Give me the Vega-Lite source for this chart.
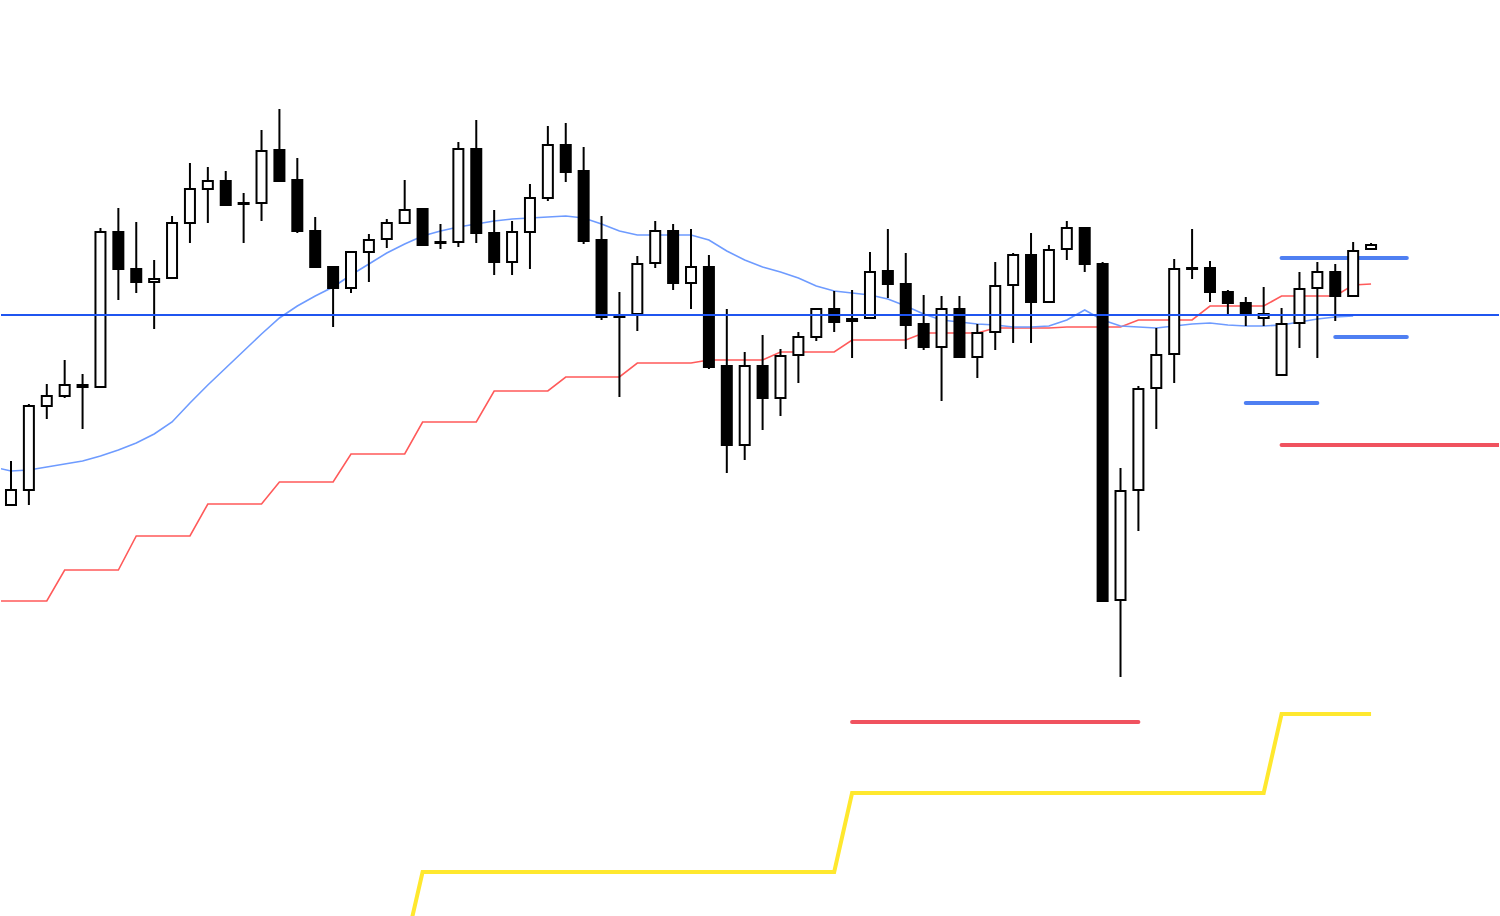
{
  "$schema": "https://vega.github.io/schema/vega-lite/v6.json",
  "width": 1500,
  "height": 916,
  "autosize": {"type": "fit", "contains": "padding"},
  "padding": 0,
  "background": "white",
  "config": {"view": {"stroke": null}, "scale": {"continuousPadding": 0}},
  "datasets": {
    "candles": [
      {"i": -1, "ma": 145.33, "ma4": 143.99},
      {"i": 0, "o": 144.95, "h": 145.39, "l": 144.95, "c": 145.10, "ma": 145.29, "ma4": 143.99},
      {"i": 1, "o": 145.10, "h": 145.96, "l": 144.95, "c": 145.94, "ma": 145.30, "ma4": 143.99},
      {"i": 2, "o": 145.94, "h": 146.16, "l": 145.81, "c": 146.04, "ma": 145.33, "ma4": 143.99},
      {"i": 3, "o": 146.04, "h": 146.40, "l": 146.02, "c": 146.15, "ma": 145.36, "ma4": 144.30},
      {"i": 4, "o": 146.15, "h": 146.26, "l": 145.71, "c": 146.13, "ma": 145.39, "ma4": 144.30},
      {"i": 5, "o": 146.13, "h": 147.72, "l": 146.12, "c": 147.68, "ma": 145.44, "ma4": 144.30},
      {"i": 6, "o": 147.68, "h": 147.92, "l": 147.00, "c": 147.31, "ma": 145.50, "ma4": 144.30},
      {"i": 7, "o": 147.31, "h": 147.78, "l": 147.07, "c": 147.18, "ma": 145.57, "ma4": 144.64},
      {"i": 8, "o": 147.18, "h": 147.40, "l": 146.71, "c": 147.21, "ma": 145.66, "ma4": 144.64},
      {"i": 9, "o": 147.22, "h": 147.84, "l": 147.22, "c": 147.77, "ma": 145.78, "ma4": 144.64},
      {"i": 10, "o": 147.77, "h": 148.37, "l": 147.57, "c": 148.11, "ma": 145.97, "ma4": 144.64},
      {"i": 11, "o": 148.11, "h": 148.33, "l": 147.77, "c": 148.19, "ma": 146.15, "ma4": 144.96},
      {"i": 12, "o": 148.19, "h": 148.29, "l": 147.95, "c": 147.95, "ma": 146.32, "ma4": 144.96},
      {"i": 13, "o": 147.97, "h": 148.07, "l": 147.57, "c": 147.96, "ma": 146.49, "ma4": 144.96},
      {"i": 14, "o": 147.97, "h": 148.70, "l": 147.79, "c": 148.49, "ma": 146.66, "ma4": 144.96},
      {"i": 15, "o": 148.50, "h": 148.91, "l": 148.18, "c": 148.19, "ma": 146.82, "ma4": 145.18},
      {"i": 16, "o": 148.20, "h": 148.42, "l": 147.67, "c": 147.69, "ma": 146.94, "ma4": 145.18},
      {"i": 17, "o": 147.69, "h": 147.83, "l": 147.33, "c": 147.33, "ma": 147.04, "ma4": 145.18},
      {"i": 18, "o": 147.33, "h": 147.34, "l": 146.73, "c": 147.12, "ma": 147.13, "ma4": 145.18},
      {"i": 19, "o": 147.12, "h": 147.49, "l": 147.07, "c": 147.48, "ma": 147.25, "ma4": 145.46},
      {"i": 20, "o": 147.48, "h": 147.66, "l": 147.18, "c": 147.60, "ma": 147.36, "ma4": 145.46},
      {"i": 21, "o": 147.61, "h": 147.81, "l": 147.52, "c": 147.77, "ma": 147.47, "ma4": 145.46},
      {"i": 22, "o": 147.77, "h": 148.20, "l": 147.77, "c": 147.90, "ma": 147.56, "ma4": 145.46, "d": 140.50},
      {"i": 23, "o": 147.91, "h": 147.91, "l": 147.55, "c": 147.55, "ma": 147.64, "ma4": 145.78, "d": 141.28},
      {"i": 24, "o": 147.58, "h": 147.76, "l": 147.51, "c": 147.57, "ma": 147.69, "ma4": 145.78, "d": 141.28},
      {"i": 25, "o": 147.58, "h": 148.58, "l": 147.53, "c": 148.51, "ma": 147.73, "ma4": 145.78, "d": 141.28},
      {"i": 26, "o": 148.51, "h": 148.80, "l": 147.57, "c": 147.67, "ma": 147.76, "ma4": 145.78, "d": 141.28},
      {"i": 27, "o": 147.67, "h": 147.90, "l": 147.25, "c": 147.38, "ma": 147.79, "ma4": 146.09, "d": 141.28},
      {"i": 28, "o": 147.38, "h": 147.79, "l": 147.25, "c": 147.68, "ma": 147.81, "ma4": 146.09, "d": 141.28},
      {"i": 29, "o": 147.68, "h": 148.16, "l": 147.31, "c": 148.02, "ma": 147.82, "ma4": 146.09, "d": 141.28},
      {"i": 30, "o": 148.02, "h": 148.74, "l": 147.99, "c": 148.55, "ma": 147.83, "ma4": 146.09, "d": 141.28},
      {"i": 31, "o": 148.55, "h": 148.77, "l": 148.18, "c": 148.28, "ma": 147.84, "ma4": 146.23, "d": 141.28},
      {"i": 32, "o": 148.29, "h": 148.53, "l": 147.56, "c": 147.59, "ma": 147.82, "ma4": 146.23, "d": 141.28},
      {"i": 33, "o": 147.60, "h": 147.84, "l": 146.80, "c": 146.83, "ma": 147.76, "ma4": 146.23, "d": 141.28},
      {"i": 34, "o": 146.84, "h": 147.08, "l": 146.03, "c": 146.83, "ma": 147.69, "ma4": 146.23, "d": 141.28},
      {"i": 35, "o": 146.86, "h": 147.44, "l": 146.69, "c": 147.36, "ma": 147.65, "ma4": 146.37, "d": 141.28},
      {"i": 36, "o": 147.37, "h": 147.79, "l": 147.32, "c": 147.69, "ma": 147.65, "ma4": 146.37, "d": 141.28},
      {"i": 37, "o": 147.69, "h": 147.76, "l": 147.10, "c": 147.17, "ma": 147.65, "ma4": 146.37, "d": 141.28},
      {"i": 38, "o": 147.17, "h": 147.71, "l": 146.91, "c": 147.33, "ma": 147.65, "ma4": 146.37, "d": 141.28},
      {"i": 39, "o": 147.33, "h": 147.45, "l": 146.31, "c": 146.33, "ma": 147.60, "ma4": 146.40, "d": 141.28},
      {"i": 40, "o": 146.34, "h": 146.91, "l": 145.27, "c": 145.55, "ma": 147.49, "ma4": 146.40, "d": 141.28},
      {"i": 41, "o": 145.55, "h": 146.48, "l": 145.40, "c": 146.34, "ma": 147.40, "ma4": 146.40, "d": 141.28},
      {"i": 42, "o": 146.34, "h": 146.65, "l": 145.70, "c": 146.02, "ma": 147.33, "ma4": 146.40, "d": 141.28},
      {"i": 43, "o": 146.02, "h": 146.51, "l": 145.84, "c": 146.44, "ma": 147.28, "ma4": 146.48, "d": 141.28},
      {"i": 44, "o": 146.45, "h": 146.68, "l": 146.17, "c": 146.63, "ma": 147.22, "ma4": 146.48, "d": 141.28},
      {"i": 45, "o": 146.63, "h": 146.91, "l": 146.59, "c": 146.91, "ma": 147.14, "ma4": 146.48, "d": 141.28},
      {"i": 46, "o": 146.91, "h": 147.09, "l": 146.68, "c": 146.78, "ma": 147.09, "ma4": 146.48, "d": 141.28},
      {"i": 47, "o": 146.81, "h": 147.10, "l": 146.42, "c": 146.79, "ma": 147.07, "ma4": 146.60, "d": 142.07},
      {"i": 48, "o": 146.82, "h": 147.48, "l": 146.82, "c": 147.28, "ma": 147.05, "ma4": 146.60, "d": 142.07},
      {"i": 49, "o": 147.29, "h": 147.71, "l": 147.02, "c": 147.16, "ma": 147.01, "ma4": 146.60, "d": 142.07},
      {"i": 50, "o": 147.16, "h": 147.47, "l": 146.51, "c": 146.75, "ma": 146.94, "ma4": 146.60, "d": 142.07},
      {"i": 51, "o": 146.76, "h": 147.05, "l": 146.50, "c": 146.53, "ma": 146.86, "ma4": 146.67, "d": 142.07},
      {"i": 52, "o": 146.53, "h": 147.04, "l": 145.99, "c": 146.91, "ma": 146.80, "ma4": 146.67, "d": 142.07},
      {"i": 53, "o": 146.91, "h": 147.04, "l": 146.43, "c": 146.43, "ma": 146.78, "ma4": 146.67, "d": 142.07},
      {"i": 54, "o": 146.43, "h": 146.76, "l": 146.22, "c": 146.67, "ma": 146.76, "ma4": 146.67, "d": 142.07},
      {"i": 55, "o": 146.68, "h": 147.38, "l": 146.50, "c": 147.14, "ma": 146.75, "ma4": 146.72, "d": 142.07},
      {"i": 56, "o": 147.15, "h": 147.47, "l": 146.57, "c": 147.45, "ma": 146.73, "ma4": 146.72, "d": 142.07},
      {"i": 57, "o": 147.45, "h": 147.67, "l": 146.57, "c": 146.98, "ma": 146.73, "ma4": 146.72, "d": 142.07},
      {"i": 58, "o": 146.98, "h": 147.55, "l": 146.98, "c": 147.50, "ma": 146.74, "ma4": 146.72, "d": 142.07},
      {"i": 59, "o": 147.51, "h": 147.79, "l": 147.40, "c": 147.72, "ma": 146.80, "ma4": 146.73, "d": 142.07},
      {"i": 60, "o": 147.72, "h": 147.73, "l": 147.28, "c": 147.36, "ma": 146.90, "ma4": 146.73, "d": 142.07},
      {"i": 61, "o": 147.36, "h": 147.38, "l": 143.99, "c": 143.99, "ma": 146.80, "ma4": 146.73, "d": 142.07},
      {"i": 62, "o": 144.00, "h": 145.32, "l": 143.23, "c": 145.09, "ma": 146.74, "ma4": 146.73, "d": 142.07},
      {"i": 63, "o": 145.10, "h": 146.14, "l": 144.69, "c": 146.11, "ma": 146.73, "ma4": 146.80, "d": 142.07},
      {"i": 64, "o": 146.12, "h": 146.72, "l": 145.71, "c": 146.45, "ma": 146.72, "ma4": 146.80, "d": 142.07},
      {"i": 65, "o": 146.46, "h": 147.41, "l": 146.17, "c": 147.31, "ma": 146.74, "ma4": 146.80, "d": 142.07},
      {"i": 66, "o": 147.32, "h": 147.71, "l": 147.21, "c": 147.31, "ma": 146.76, "ma4": 146.80, "d": 142.07},
      {"i": 67, "o": 147.32, "h": 147.39, "l": 146.98, "c": 147.08, "ma": 146.77, "ma4": 146.94, "d": 142.07},
      {"i": 68, "o": 147.08, "h": 147.10, "l": 146.85, "c": 146.97, "ma": 146.75, "ma4": 146.94, "d": 142.07},
      {"i": 69, "o": 146.97, "h": 147.03, "l": 146.74, "c": 146.86, "ma": 146.74, "ma4": 146.94, "d": 142.07},
      {"i": 70, "o": 146.82, "h": 147.13, "l": 146.74, "c": 146.86, "ma": 146.74, "ma4": 146.94, "d": 142.07},
      {"i": 71, "o": 146.25, "h": 146.92, "l": 146.25, "c": 146.76, "ma": 146.75, "ma4": 147.04, "d": 142.86},
      {"i": 72, "o": 146.77, "h": 147.28, "l": 146.52, "c": 147.11, "ma": 146.78, "ma4": 147.04, "d": 142.86},
      {"i": 73, "o": 147.12, "h": 147.38, "l": 146.42, "c": 147.28, "ma": 146.81, "ma4": 147.04, "d": 142.86},
      {"i": 74, "o": 147.28, "h": 147.36, "l": 146.79, "c": 147.04, "ma": 146.83, "ma4": 147.04, "d": 142.86},
      {"i": 75, "o": 147.04, "h": 147.58, "l": 147.03, "c": 147.49, "ma": 146.84, "ma4": 147.15, "d": 142.86},
      {"i": 76, "o": 147.51, "h": 147.57, "l": 147.51, "c": 147.55, "ma4": 147.16, "d": 142.86}
    ],
    "levels": [
      {"kind": "entry", "from": 71, "to": 78, "price": 147.42},
      {"kind": "entry", "from": 74, "to": 78, "price": 146.63},
      {"kind": "entry", "from": 69, "to": 73, "price": 145.97},
      {"kind": "stop", "from": 71, "to": 90, "price": 145.55},
      {"kind": "stop", "from": 47, "to": 63, "price": 142.78}
    ]
  },
  "layer": [
    {
      "data": {"name": "candles"},
      "mark": {"type": "line", "color": "#ffe82e", "strokeWidth": 4, "clip": true},
      "encoding": {
        "x": {"field": "i", "type": "quantitative", "scale": {"domain": [-0.558, 83.15], "nice": false, "zero": false, "padding": 0}, "axis": null},
        "y": {"field": "d", "type": "quantitative", "scale": {"domain": [140.84, 150], "nice": false, "zero": false, "padding": 0}, "axis": null}
      }
    },
    {
      "data": {"name": "candles"},
      "mark": {"type": "line", "color": "#ff5a5a", "strokeWidth": 1.6, "clip": true},
      "encoding": {
        "x": {"field": "i", "type": "quantitative", "scale": {"domain": [-0.558, 83.15], "nice": false, "zero": false, "padding": 0}, "axis": null},
        "y": {"field": "ma4", "type": "quantitative", "scale": {"domain": [140.84, 150], "nice": false, "zero": false, "padding": 0}, "axis": null}
      }
    },
    {
      "data": {"name": "candles"},
      "mark": {"type": "line", "color": "#6e9bff", "strokeWidth": 1.6, "clip": true},
      "encoding": {
        "x": {"field": "i", "type": "quantitative", "scale": {"domain": [-0.558, 83.15], "nice": false, "zero": false, "padding": 0}, "axis": null},
        "y": {"field": "ma", "type": "quantitative", "scale": {"domain": [140.84, 150], "nice": false, "zero": false, "padding": 0}, "axis": null}
      }
    },
    {
      "data": {"name": "levels"},
      "mark": {"type": "rule", "strokeWidth": 4, "strokeCap": "round", "clip": true},
      "encoding": {
        "x": {"field": "from", "type": "quantitative", "scale": {"domain": [-0.558, 83.15], "nice": false, "zero": false, "padding": 0}, "axis": null},
        "x2": {"field": "to"},
        "y": {"field": "price", "type": "quantitative", "scale": {"domain": [140.84, 150], "nice": false, "zero": false, "padding": 0}, "axis": null},
        "color": {"field": "kind", "type": "nominal", "scale": {"domain": ["entry", "stop"], "range": ["#4f7ff2", "#f0525f"]}, "legend": null}
      }
    },
    {
      "data": {"name": "candles"},
      "mark": {"type": "rule", "color": "black", "strokeWidth": 2},
      "encoding": {
        "x": {"field": "i", "type": "quantitative", "scale": {"domain": [-0.558, 83.15], "nice": false, "zero": false, "padding": 0}, "axis": null},
        "y": {"field": "l", "type": "quantitative", "scale": {"domain": [140.84, 150], "nice": false, "zero": false, "padding": 0}, "axis": null},
        "y2": {"field": "h"}
      }
    },
    {
      "data": {"name": "candles"},
      "mark": {"type": "bar", "size": 10, "stroke": "black", "strokeWidth": 2, "orient": "vertical"},
      "encoding": {
        "x": {"field": "i", "type": "quantitative", "scale": {"domain": [-0.558, 83.15], "nice": false, "zero": false, "padding": 0}, "axis": null},
        "y": {"field": "o", "type": "quantitative", "scale": {"domain": [140.84, 150], "nice": false, "zero": false, "padding": 0}, "axis": null},
        "y2": {"field": "c"},
        "fill": {"condition": {"test": "datum.c >= datum.o", "value": "white"}, "value": "black"}
      }
    },
    {
      "data": {"values": [{"level": 146.85}]},
      "mark": {"type": "rule", "color": "#1f55f0", "strokeWidth": 1.8},
      "encoding": {
        "y": {"field": "level", "type": "quantitative", "scale": {"domain": [140.84, 150], "nice": false, "zero": false, "padding": 0}, "axis": null}
      }
    }
  ]
}
